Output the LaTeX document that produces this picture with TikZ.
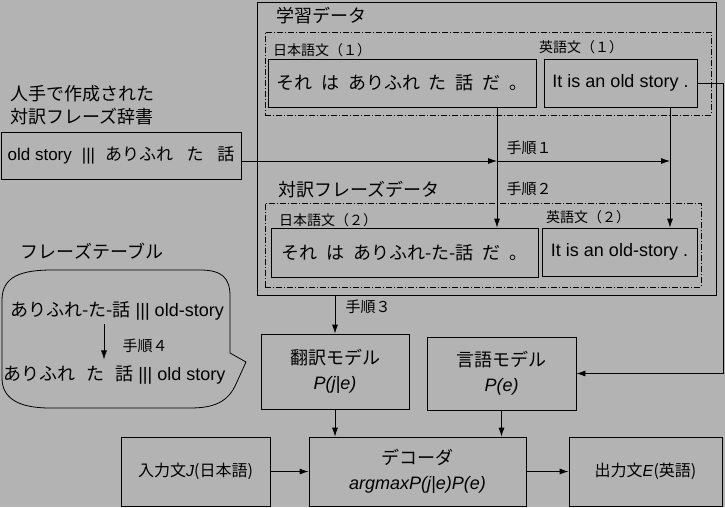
\documentclass[tikz,border=0pt]{standalone}
\usepackage{fontspec}
\setmainfont{Liberation Sans}
\newfontfamily\jp[WordSpace=2.2]{Noto Sans CJK JP}
\usetikzlibrary{positioning, arrows.meta, calc}
\definecolor{bggray}{RGB}{179,179,179}

\begin{document}
\begin{tikzpicture}[x=1pt, y=-1pt,
  box/.style={rectangle, draw=black, line width=0.8pt, inner sep=0pt,
              align=center, font=\fontsize{18}{25}\selectfont},
  frame/.style={rectangle, draw=black, line width=0.8pt, inner sep=0pt},
  dashframe/.style={rectangle, draw=black, line width=0.6pt, inner sep=0pt,
                    dash pattern=on 6pt off 2pt on 1pt off 2pt},
  title/.style={font=\fontsize{18}{23}\selectfont\jp, inner sep=0pt, align=left},
  sublbl/.style={font=\fontsize{14}{16}\selectfont\jp, inner sep=0pt},
  steplbl/.style={font=\fontsize{15}{17}\selectfont\jp, inner sep=0pt},
  tabrow/.style={font=\fontsize{18}{20}\selectfont, inner sep=0pt},
  arr/.style={-{Latex[length=9pt, width=6pt]}, line width=0.8pt},
  line/.style={line width=0.8pt}
]
\useasboundingbox (0,0) rectangle (725,507);
\fill[bggray] (0,0) rectangle (725,507);

% ===== TRAINING DATA FRAMES =====
\node[frame, minimum width=459pt, minimum height=293pt] (train) at (486.5,148.5) {};
\node[dashframe, minimum width=446pt, minimum height=83pt] (pair1) at (488,73.5) {};
\node[dashframe, minimum width=436pt, minimum height=84pt] (pair2) at (483,245) {};

\node[title] (trainlbl) at (321,16) {学習データ};
\node[title] (pairlbl) at (359,190) {対訳フレーズデータ};
\node[sublbl] (jp1lbl) at (322,50) {日本語文（１）};
\node[sublbl] (en1lbl) at (581,47) {英語文（１）};
\node[sublbl] (jp2lbl) at (328,220) {日本語文（２）};
\node[sublbl] (en2lbl) at (588,217) {英語文（２）};

% ===== SENTENCES =====
\node[box, minimum width=268pt, minimum height=48pt] (jp1) at (402,83) {\jp それ は ありふれ た 話 だ 。};
\node[box, minimum width=153pt, minimum height=48pt] (en1) at (620.5,83) {It is an old story .};
\node[box, minimum width=267pt, minimum height=49pt] (jp2) at (404.5,252.5) {\jp それ は ありふれ-た-話 だ 。};
\node[box, minimum width=155pt, minimum height=48pt] (en2) at (619.5,252) {It is an old-story .};

% ===== DICTIONARY =====
\node[title] (dictlbl) at (82,105) {人手で作成された\\対訳フレーズ辞書};
\node[box, minimum width=240pt, minimum height=47pt, font=\fontsize{17}{20}\selectfont] (dict) at (121,155.5)
  {old story\hspace{10pt}|||\hspace{10pt}{\jp ありふれ\hspace{0.8em}た\hspace{0.8em}話}};

% ===== PHRASE TABLE =====
\node[title] (tablbl) at (92,251) {フレーズテーブル};
\draw[line] (2,300) .. controls (2,276) and (22,270) .. (52,270) -- (200,270)
  .. controls (222,270) and (230,278) .. (230,296) -- (230,353) -- (246,362) -- (236,384)
  .. controls (228,402) and (214,408) .. (190,408) -- (50,408)
  .. controls (18,408) and (2,398) .. (2,378) -- cycle;
\node[tabrow] (p1) at (117,311) {{\jp ありふれ-た-話} ||| old-story};
\node[tabrow] (p2) at (114.5,375) {{\jp ありふれ\hspace{0.6em}た\hspace{0.6em}話} ||| old story};
\coordinate (k4) at (104,341);
\draw[arr, shorten <=3pt, shorten >=6pt] (p1.south -| k4) -- (p2.north -| k4);
\node[steplbl] (st4) at (145,346) {手順４};

% ===== MODELS =====
\node[box, minimum width=148pt, minimum height=75pt] (tm) at (335,371.5) {{\jp 翻訳モデル}\\\textit{P(j|e)}};
\node[box, minimum width=149pt, minimum height=73pt] (lm) at (501.5,373.5) {{\jp 言語モデル}\\\textit{P(e)}};
\node[box, minimum width=149pt, minimum height=69pt, font=\fontsize{16}{20}\selectfont] (inp) at (195.5,471.5)
  {{\jp 入力文}\textit{J}{\jp (日本語)}};
\node[box, minimum width=217pt, minimum height=69pt] (dec) at (417.5,471.5) {{\jp デコーダ}\\\textit{argmaxP(j|e)P(e)}};
\node[box, minimum width=153pt, minimum height=69pt, font=\fontsize{16}{20}\selectfont] (outp) at (645.5,471.5)
  {{\jp 出力文}\textit{E}{\jp (英語)}};

% ===== STEPS =====
\coordinate (s1) at (497,161);
\coordinate (s2) at (670,161);
\coordinate (rt) at (723,83);
\node[steplbl] (st1) at (529,148) {手順１};
\node[steplbl] (st2) at (529,189) {手順２};
\node[steplbl] (st3) at (368,307) {手順３};

\draw[arr] (dict.east |- s1) -- (s1);
\draw[arr] (s1) -- (s2);
\draw[arr] (jp1.south -| s1) -- (jp2.north -| s1);
\draw[arr] (en1.south -| s2) -- (en2.north -| s2);
\draw[arr] (en1.east) -- (rt) |- (lm.east);
\draw[arr] (tm.north |- train.south) -- (tm.north);
\draw[arr] (tm.south) -- (tm.south |- dec.north);
\draw[arr] (lm.south) -- (lm.south |- dec.north);
\draw[arr] (inp.east) -- (dec.west);
\draw[arr] (dec.east) -- (outp.west);

\end{tikzpicture}
\end{document}
